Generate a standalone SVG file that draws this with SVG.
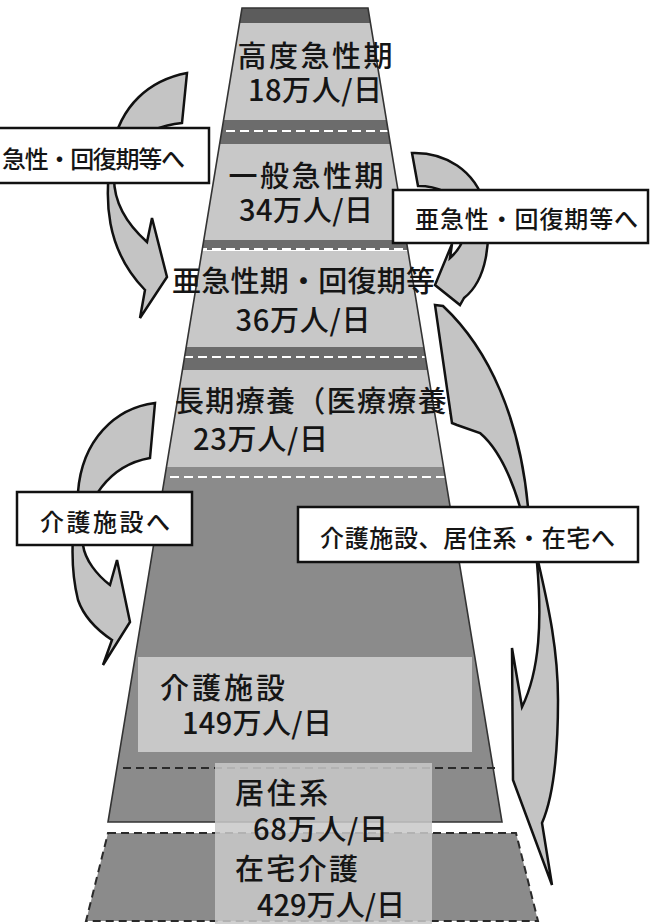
<svg xmlns="http://www.w3.org/2000/svg" width="650" height="924" viewBox="0 0 650 924">
<style>
.lt{fill:#c8c8c8}
.dk{fill:#6c6c6c}
.md{fill:#8b8b8b}
.wd{stroke:#ffffff;stroke-width:2;stroke-dasharray:9 5;fill:none}
.bd{stroke:#2a2a2a;stroke-width:2;stroke-dasharray:8 5;fill:none}
.t{font-family:"Noto Sans CJK JP","Noto Sans",sans-serif;font-size:29px;font-weight:500;fill:#151515}
.lb{font-family:"Noto Sans CJK JP","Noto Sans",sans-serif;font-size:24px;font-weight:500;fill:#151515}
.box{fill:#ffffff;stroke:#111111;stroke-width:2.5}
.arr{fill:#c4c4c4;stroke:#111111;stroke-width:2.5;stroke-linejoin:miter}
</style>
<defs>
<clipPath id="pyr"><polygon points="242,8 368,8 502,822 108,822"/></clipPath>
</defs>
<rect x="0" y="0" width="650" height="924" fill="#ffffff"/>
<g id="pyramid">
<g clip-path="url(#pyr)">
<rect x="100" y="8" width="410" height="15" fill="#5c5c5c"/>
<rect x="100" y="23" width="410" height="97" class="lt"/>
<rect x="100" y="120" width="410" height="24" class="dk"/>
<line x1="100" y1="131" x2="510" y2="131" class="wd"/>
<rect x="100" y="144" width="410" height="96" class="lt"/>
<rect x="100" y="240" width="410" height="10" class="dk"/>
<line x1="100" y1="249" x2="510" y2="249" class="wd"/>
<rect x="100" y="251" width="410" height="96" class="lt"/>
<rect x="100" y="347" width="410" height="23" class="dk"/>
<line x1="100" y1="357" x2="510" y2="357" class="wd"/>
<rect x="100" y="370" width="410" height="97" class="lt"/>
<rect x="100" y="467" width="410" height="360" class="md"/>
<line x1="100" y1="477" x2="510" y2="477" class="wd"/>
</g>
<polygon points="242,8 368,8 502,822 108,822" fill="none" stroke="#333333" stroke-width="1.6"/>
</g>
<g id="bottom-trapezoid">
<polygon points="108,833 516,833 538,921 86,921" class="md"/>
</g>
<g id="kaigo-shisetsu-fill">
<rect x="138" y="657" width="334" height="95" class="lt"/>
<line x1="123" y1="768" x2="496" y2="768" class="bd"/>
</g>
<polygon points="108,833 516,833 538,921 86,921" class="bd"/>
<rect x="215" y="763" width="217" height="161" fill="#c8c8c8" fill-opacity="0.86"/>

<g id="node-koudo">
<text class="t" x="315" y="67" text-anchor="middle" textLength="155" lengthAdjust="spacing">高度急性期</text>
<text class="t" x="315" y="101" text-anchor="middle" textLength="134" lengthAdjust="spacing">18万人/日</text>
</g>
<g id="node-ippan">
<text class="t" x="306" y="187" text-anchor="middle" textLength="155" lengthAdjust="spacing">一般急性期</text>
<text class="t" x="306" y="221" text-anchor="middle" textLength="134" lengthAdjust="spacing">34万人/日</text>
</g>
<g id="node-akyusei">
<text class="t" x="172" y="292" textLength="263" lengthAdjust="spacing">亜急性期・回復期等</text>
<text class="t" x="303" y="331" text-anchor="middle" textLength="135" lengthAdjust="spacing">36万人/日</text>
</g>
<g id="node-choki">
<text class="t" x="175" y="412" textLength="302" lengthAdjust="spacing">長期療養（医療療養）</text>
<text class="t" x="193" y="450" textLength="135" lengthAdjust="spacing">23万人/日</text>
</g>
<g id="node-kaigo">
<text class="t" x="160" y="699" textLength="125" lengthAdjust="spacing">介護施設</text>
<text class="t" x="182" y="734" textLength="150" lengthAdjust="spacing">149万人/日</text>
</g>
<g id="node-kyoju">
<text class="t" x="235" y="804" textLength="93" lengthAdjust="spacing">居住系</text>
<text class="t" x="253" y="840" textLength="135" lengthAdjust="spacing">68万人/日</text>
</g>
<g id="node-zaitaku">
<text class="t" x="235" y="880" textLength="123" lengthAdjust="spacing">在宅介護</text>
<text class="t" x="257" y="916" textLength="148" lengthAdjust="spacing">429万人/日</text>
</g>

<g id="connectors">
<path class="arr" d="M187,73 C150,80 120,105 112,150 C103,200 106,250 145,290 L140,318 L167,277 L152,218 L147,242 C128,225 114,205 114,178 C116,150 140,128 182,123 Z"/>
<path class="arr" d="M412,153 C445,152 475,170 485,205 C492,240 487,280 464,298 L460,305 L435,285 L452,244 L450,258 C465,245 470,225 462,208 C452,192 437,186 418,186 Z"/>
<path class="arr" d="M435,305 L443,306 C490,350 520,420 528,507 C534,560 558,620 558,700 C558,760 552,800 542,823 L552,885 L513,780 L512,648 L522,707 C540,670 542,620 537,563 C534,535 528,515 520,507 C512,480 500,450 480,433 L457,425 L452,423 Z"/>
<path class="arr" d="M155,403 C115,408 82,440 78,492 C74,520 68,560 78,600 C85,620 100,632 112,640 L103,665 L130,622 L117,560 L110,585 C97,575 85,560 83,545 C83,500 110,465 150,458 Z"/>
</g>

<g id="label-akyusei-left">
<rect class="box" x="-3" y="128" width="212" height="55"/>
<text class="lb" x="2" y="168" textLength="183" lengthAdjust="spacing">急性・回復期等へ</text>
</g>
<g id="label-akyusei-right">
<rect class="box" x="393" y="190" width="255" height="53"/>
<text class="lb" x="415" y="228" textLength="223" lengthAdjust="spacing">亜急性・回復期等へ</text>
</g>
<g id="label-kaigo">
<rect class="box" x="17" y="492" width="175" height="53"/>
<text class="lb" x="40" y="531" textLength="130" lengthAdjust="spacing">介護施設へ</text>
</g>
<g id="label-kaigo-kyoju-zaitaku">
<rect class="box" x="298" y="507" width="340" height="55"/>
<text class="lb" x="320" y="547" textLength="295" lengthAdjust="spacing">介護施設、居住系・在宅へ</text>
</g>
</svg>
